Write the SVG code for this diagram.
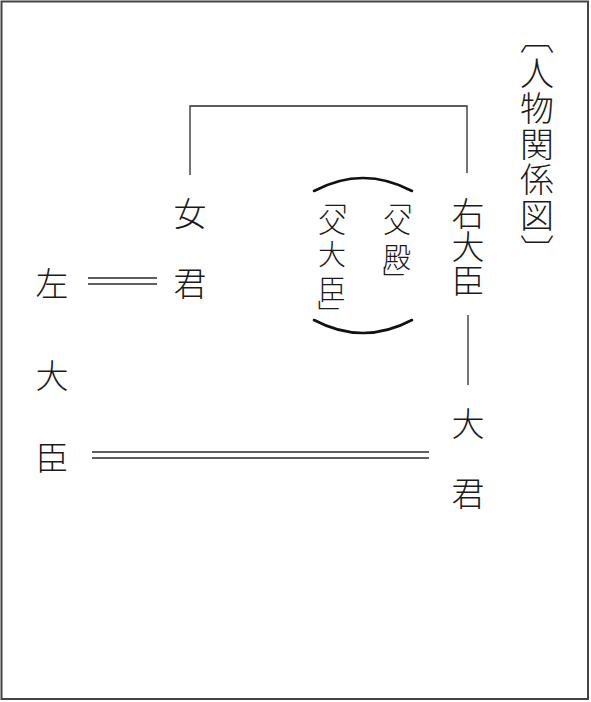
<svg xmlns="http://www.w3.org/2000/svg" width="591" height="702" viewBox="0 0 591 702">
<style>
.t{font-family:"Noto Sans CJK JP","Noto Sans CJK SC",sans-serif;font-weight:300;fill:#1a1a1a}
.h{text-anchor:middle}
.v{writing-mode:vertical-rl;text-anchor:start}
.L{font-size:33px}
.S{font-size:28px}
.ln{fill:none;stroke:#2a2a2a;stroke-width:1.3}
.arc{fill:none;stroke:#111;stroke-width:2.6;stroke-linecap:round}
</style>
<rect x="0" y="0" width="591" height="702" fill="#fff"/>
<rect x="1.5" y="1.5" width="586.5" height="697.5" fill="none" stroke="#444" stroke-width="2"/>
<g id="title">
<text class="t v" x="537" y="20" style="font-size:34px;letter-spacing:1.6px">〔人物関係図〕</text>
</g>
<g id="udaijin">
<text class="t v L" x="468" y="196.5" style="letter-spacing:0.5px">右大臣</text>
</g>
<g id="onnagimi" class="t h L">
<text x="190" y="226">女</text>
<text x="190" y="296">君</text>
</g>
<g id="sadaijin" class="t h L">
<text x="52" y="296">左</text>
<text x="52" y="387.5">大</text>
<text x="52" y="470">臣</text>
</g>
<g id="oogimi" class="t h L">
<text x="468" y="435.5">大</text>
<text x="468" y="505.5">君</text>
</g>
<g id="note">
<path class="arc" d="M314,191 Q363,165 412,191"/>
<path class="arc" d="M314,320 Q363,346 412,320"/>
<text class="t v S" x="397" y="186.6 208.5 243.5 266">「父殿」</text>
<text class="t v S" x="332" y="186.6 208.5 240 275 300">「父大臣」</text>
</g>
<g id="connectors" class="ln">
<path d="M190,175 V106 H467 V173"/>
<path d="M468,315 V385"/>
<path d="M88,278 H157 M88,284 H157"/>
<path d="M92,452 H429 M92,458 H429"/>
</g>
</svg>
